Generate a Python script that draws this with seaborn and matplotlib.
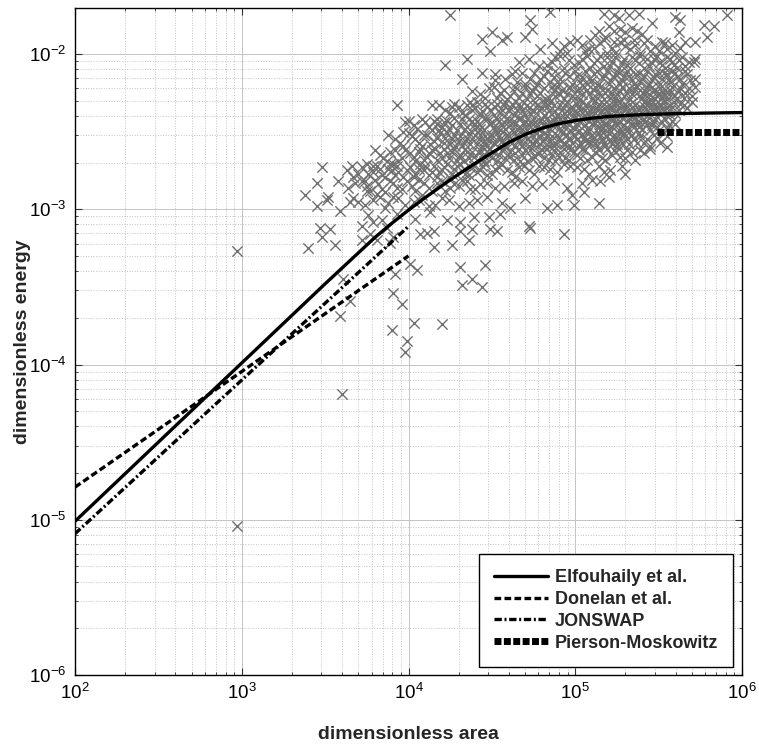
import matplotlib
matplotlib.use("Agg")
import matplotlib.pyplot as plt
import matplotlib.ticker as mticker
import numpy as np
import seaborn as sns

sparse_points = [
    (2.97, -3.27), (2.97, -5.04), (3.60, -4.19),
    (4.25, -1.75), (4.73, -1.78), (4.74, -1.84), (4.70, -1.89), (4.59, -1.89),
    (4.56, -1.91), (4.50, -1.86), (4.44, -1.90), (4.49, -1.98), (4.35, -2.03),
    (4.22, -2.07), (4.44, -2.12), (4.32, -2.16), (4.52, -2.17), (4.52, -2.13),
    (4.85, -1.73), (5.46, -1.80), (5.62, -1.86), (5.63, -1.78), (5.77, -1.81),
    (5.83, -1.82), (5.91, -1.75), (5.79, -1.89), (5.72, -1.92), (5.72, -2.03),
    (5.72, -2.16), (5.60, -1.76), (5.17, -1.74), (5.23, -1.75), (5.26, -1.77),
    (5.32, -1.75), (5.38, -1.74), (5.34, -1.83), (5.37, -1.85), (5.30, -1.86),
    (5.23, -1.85), (5.14, -1.85), (5.09, -1.91), (5.20, -1.82), (5.29, -1.91),
    (5.23, -1.92), (5.12, -1.88), (5.27, -1.84), (5.18, -1.89), (5.40, -1.87),
    (3.93, -2.33), (4.14, -2.33), (4.26, -2.34), (4.38, -2.33), (4.34, -2.39),
    (4.17, -2.45), (3.98, -2.44), (3.97, -2.50), (4.02, -2.53),
    (3.48, -2.73), (3.45, -2.83), (3.58, -2.82), (3.38, -2.91), (3.45, -2.98),
    (3.51, -2.94), (3.59, -3.01), (3.65, -2.95), (3.74, -2.82), (3.75, -2.88),
    (3.81, -2.90), (3.89, -2.71), (3.92, -2.78), (3.79, -2.72), (3.52, -2.92),
    (3.47, -3.12), (3.53, -3.13), (3.48, -3.18), (3.40, -3.25), (3.56, -3.23),
    (3.72, -3.11), (3.79, -3.08), (3.77, -3.16), (3.72, -3.20), (3.87, -3.12),
    (3.81, -3.20), (3.89, -3.22), (3.91, -3.18), (4.01, -3.35), (4.05, -3.39),
    (3.92, -3.42), (3.91, -3.54), (3.96, -3.61), (3.59, -3.69), (4.03, -3.73),
    (4.20, -3.74), (3.90, -3.78), (3.99, -3.85), (3.98, -3.92), (3.65, -3.59),
    (3.61, -3.45), (4.31, -3.37), (4.46, -3.36), (4.32, -3.49), (4.38, -3.45),
    (4.44, -3.50), (4.15, -3.24), (4.26, -3.23), (4.36, -3.20), (4.07, -3.16),
    (4.11, -3.15), (4.15, -3.14), (4.31, -3.14), (4.38, -3.13), (4.49, -3.13),
    (4.53, -3.14), (4.72, -3.11), (4.73, -3.12), (4.93, -3.16), (5.14, -2.96),
    (4.99, -2.97), (4.83, -2.99), (4.89, -2.97), (4.61, -2.99), (4.55, -3.03),
    (4.48, -3.05), (4.39, -3.05), (4.31, -3.08), (4.23, -3.07), (5.55, -2.60),
    (5.30, -2.77), (5.71, -2.05), (5.72, -2.21), (5.70, -2.31),
]

cloud_points = [
    # energy 10^-1.9 .. 10^-2.0
    (4.93, -1.95), (4.97, -1.92), (4.91, -1.98), (5.04, -1.94), (5.08, -1.97),
    (5.15, -1.93), (5.19, -1.99), (5.22, -1.96), (5.27, -1.92), (5.33, -1.97),
    (5.36, -1.94), (5.41, -1.93), (5.45, -1.98), (5.48, -1.95), (5.52, -1.92),
    (5.55, -1.97), (5.58, -1.94), (5.63, -1.96),
    (4.86, -1.93), (4.95, -1.99), (5.01, -1.91), (5.11, -1.96), (5.17, -1.91),
    (5.24, -1.99), (5.30, -1.95), (5.39, -1.99), (5.43, -1.91), (5.50, -1.98),
    (5.54, -1.93), (5.60, -1.99), (5.66, -1.92), (4.79, -1.97), (5.06, -1.98),
    (5.35, -1.91),
    # 10^-2.0 .. 10^-2.1
    (4.66, -2.05), (4.83, -2.07), (4.88, -2.02), (4.93, -2.09), (4.96, -2.04),
    (5.02, -2.06), (5.07, -2.01), (5.09, -2.09), (5.13, -2.04), (5.17, -2.08),
    (5.19, -2.02), (5.22, -2.05), (5.26, -2.09), (5.29, -2.03), (5.31, -2.07),
    (5.34, -2.02), (5.38, -2.06), (5.41, -2.09), (5.43, -2.03), (5.46, -2.06),
    (5.49, -2.01), (5.51, -2.05), (5.54, -2.09), (5.57, -2.03), (5.59, -2.07),
    (5.62, -2.04), (5.66, -2.08),
    (4.72, -2.03), (4.78, -2.08), (4.86, -2.05), (4.91, -2.01), (4.99, -2.07),
    (5.04, -2.03), (5.11, -2.06), (5.15, -2.01), (5.21, -2.08), (5.24, -2.02),
    (5.28, -2.06), (5.33, -2.09), (5.36, -2.04), (5.39, -2.01), (5.44, -2.08),
    (5.47, -2.03), (5.52, -2.07), (5.55, -2.02), (5.58, -2.05), (5.61, -2.09),
    (5.64, -2.02), (5.68, -2.05),
    # 10^-2.1 .. 10^-2.2
    (4.62, -2.13), (4.65, -2.18), (4.68, -2.12), (4.73, -2.16), (4.77, -2.19),
    (4.81, -2.14), (4.85, -2.18), (4.88, -2.11), (4.91, -2.16), (4.94, -2.12),
    (4.98, -2.19), (5.01, -2.14), (5.03, -2.18), (5.06, -2.11), (5.08, -2.16),
    (5.11, -2.13), (5.14, -2.19), (5.16, -2.15), (5.19, -2.11), (5.21, -2.17),
    (5.24, -2.13), (5.27, -2.19), (5.29, -2.14), (5.31, -2.11), (5.34, -2.17),
    (5.36, -2.13), (5.39, -2.18), (5.41, -2.14), (5.43, -2.11), (5.46, -2.17),
    (5.48, -2.13), (5.51, -2.19), (5.53, -2.12), (5.56, -2.16), (5.58, -2.11),
    (5.61, -2.15), (5.64, -2.19), (5.67, -2.13),
    (4.58, -2.16), (4.64, -2.11), (4.70, -2.19), (4.75, -2.12), (4.79, -2.16),
    (4.83, -2.11), (4.87, -2.15), (4.90, -2.19), (4.96, -2.14), (5.00, -2.11),
    (5.04, -2.15), (5.07, -2.19), (5.10, -2.17), (5.13, -2.11), (5.18, -2.14),
    (5.20, -2.19), (5.23, -2.15), (5.26, -2.12), (5.28, -2.17), (5.32, -2.14),
    (5.35, -2.19), (5.38, -2.12), (5.40, -2.16), (5.44, -2.19), (5.47, -2.15),
    (5.50, -2.12), (5.52, -2.16), (5.55, -2.13), (5.57, -2.18), (5.60, -2.12),
    (5.63, -2.16), (5.66, -2.11), (5.69, -2.17),
    # 10^-2.2 .. 10^-2.3
    (4.43, -2.26), (4.48, -2.22), (4.53, -2.28), (4.57, -2.23), (4.61, -2.27),
    (4.64, -2.21), (4.68, -2.25), (4.71, -2.29), (4.74, -2.23), (4.77, -2.27),
    (4.81, -2.22), (4.84, -2.28), (4.87, -2.24), (4.89, -2.21), (4.91, -2.26),
    (4.93, -2.29), (4.96, -2.22), (4.98, -2.27), (5.01, -2.24), (5.03, -2.29),
    (5.05, -2.21), (5.08, -2.26), (5.11, -2.23), (5.13, -2.28), (5.15, -2.21),
    (5.18, -2.25), (5.21, -2.28), (5.23, -2.22), (5.25, -2.26), (5.28, -2.21),
    (5.31, -2.25), (5.33, -2.29), (5.35, -2.22), (5.38, -2.27), (5.39, -2.23),
    (5.41, -2.26), (5.43, -2.21), (5.45, -2.29), (5.47, -2.24), (5.49, -2.27),
    (5.51, -2.22), (5.53, -2.26), (5.55, -2.29), (5.57, -2.23), (5.59, -2.27),
    (5.62, -2.24), (5.65, -2.28), (5.68, -2.22),
    (4.38, -2.24), (4.46, -2.28), (4.51, -2.21), (4.55, -2.25), (4.59, -2.29),
    (4.63, -2.24), (4.66, -2.28), (4.70, -2.21), (4.73, -2.26), (4.76, -2.22),
    (4.79, -2.25), (4.82, -2.29), (4.86, -2.21), (4.88, -2.27), (4.92, -2.23),
    (4.95, -2.26), (4.97, -2.21), (5.00, -2.28), (5.02, -2.22), (5.04, -2.26),
    (5.07, -2.23), (5.10, -2.28), (5.12, -2.21), (5.14, -2.25), (5.17, -2.29),
    (5.19, -2.23), (5.22, -2.25), (5.24, -2.29), (5.27, -2.24), (5.29, -2.27),
    (5.32, -2.22), (5.34, -2.26), (5.37, -2.21), (5.40, -2.28), (5.42, -2.24),
    (5.44, -2.26), (5.46, -2.21), (5.48, -2.29), (5.50, -2.25), (5.52, -2.28),
    (5.54, -2.23), (5.56, -2.26), (5.58, -2.21), (5.61, -2.28), (5.63, -2.22),
    (5.66, -2.25), (5.70, -2.27),
    # 10^-2.3 .. 10^-2.4
    (4.22, -2.36), (4.27, -2.32), (4.32, -2.38), (4.35, -2.33), (4.38, -2.36),
    (4.41, -2.31), (4.44, -2.37), (4.47, -2.34), (4.51, -2.39), (4.53, -2.32),
    (4.56, -2.36), (4.58, -2.31), (4.61, -2.35), (4.63, -2.39), (4.66, -2.32),
    (4.68, -2.37), (4.71, -2.33), (4.73, -2.38), (4.76, -2.31), (4.78, -2.36),
    (4.81, -2.39), (4.83, -2.34), (4.85, -2.31), (4.88, -2.37), (4.91, -2.33),
    (4.93, -2.38), (4.95, -2.31), (4.97, -2.35), (4.99, -2.39), (5.01, -2.32),
    (5.03, -2.36), (5.05, -2.39), (5.07, -2.33), (5.09, -2.37), (5.11, -2.31),
    (5.13, -2.35), (5.15, -2.38), (5.17, -2.32), (5.19, -2.36), (5.21, -2.39),
    (5.23, -2.33), (5.25, -2.37), (5.27, -2.31), (5.29, -2.35), (5.31, -2.38),
    (5.33, -2.32), (5.35, -2.36), (5.37, -2.39), (5.39, -2.34), (5.41, -2.31),
    (5.43, -2.37), (5.45, -2.33), (5.47, -2.38), (5.49, -2.35), (5.51, -2.32),
    (5.53, -2.37), (5.55, -2.34), (5.57, -2.39), (5.59, -2.31), (5.62, -2.36),
    (5.65, -2.33),
    (4.18, -2.33), (4.25, -2.38), (4.30, -2.34), (4.34, -2.39), (4.37, -2.31),
    (4.40, -2.35), (4.43, -2.39), (4.46, -2.32), (4.49, -2.36), (4.52, -2.34),
    (4.55, -2.38), (4.57, -2.33), (4.60, -2.37), (4.62, -2.32), (4.65, -2.36),
    (4.67, -2.34), (4.70, -2.39), (4.72, -2.35), (4.75, -2.37), (4.77, -2.33),
    (4.80, -2.35), (4.82, -2.31), (4.84, -2.37), (4.87, -2.33), (4.89, -2.39),
    (4.92, -2.36), (4.94, -2.33), (4.96, -2.38), (4.98, -2.34), (5.00, -2.37),
    (5.02, -2.34), (5.04, -2.31), (5.06, -2.36), (5.08, -2.39), (5.10, -2.34),
    (5.12, -2.38), (5.14, -2.32), (5.16, -2.36), (5.18, -2.39), (5.20, -2.33),
    (5.22, -2.36), (5.24, -2.31), (5.26, -2.34), (5.28, -2.38), (5.30, -2.32),
    (5.32, -2.36), (5.34, -2.39), (5.36, -2.33), (5.38, -2.36), (5.40, -2.38),
    (5.42, -2.34), (5.44, -2.31), (5.46, -2.36), (5.48, -2.32), (5.50, -2.38),
    (5.52, -2.35), (5.54, -2.31), (5.56, -2.37), (5.58, -2.34), (5.60, -2.38),
    (5.63, -2.32), (5.67, -2.35),
    # 10^-2.4 .. 10^-2.5
    (4.03, -2.46), (4.08, -2.42), (4.12, -2.47), (4.15, -2.43), (4.18, -2.49),
    (4.21, -2.44), (4.24, -2.48), (4.27, -2.41), (4.31, -2.45), (4.33, -2.49),
    (4.36, -2.42), (4.39, -2.46), (4.41, -2.43), (4.43, -2.48), (4.46, -2.41),
    (4.48, -2.45), (4.51, -2.47), (4.53, -2.42), (4.55, -2.49), (4.57, -2.44),
    (4.59, -2.41), (4.61, -2.46), (4.63, -2.43), (4.65, -2.48), (4.67, -2.41),
    (4.69, -2.45), (4.71, -2.49), (4.73, -2.44), (4.75, -2.41), (4.77, -2.47),
    (4.79, -2.43), (4.81, -2.45), (4.83, -2.41), (4.85, -2.48), (4.87, -2.43),
    (4.89, -2.46), (4.91, -2.42), (4.93, -2.47), (4.95, -2.44), (4.97, -2.49),
    (4.99, -2.41), (5.01, -2.45), (5.02, -2.49), (5.04, -2.42), (5.06, -2.46),
    (5.08, -2.43), (5.09, -2.48), (5.11, -2.44), (5.12, -2.41), (5.14, -2.47),
    (5.16, -2.43), (5.18, -2.49), (5.19, -2.45), (5.21, -2.42), (5.22, -2.47),
    (5.24, -2.44), (5.26, -2.49), (5.28, -2.41), (5.29, -2.46), (5.31, -2.43),
    (5.32, -2.48), (5.34, -2.45), (5.36, -2.41), (5.38, -2.47), (5.39, -2.44),
    (5.41, -2.42), (5.43, -2.46), (5.45, -2.49), (5.47, -2.43), (5.49, -2.47),
    (5.52, -2.44), (5.55, -2.48), (5.58, -2.43),
    (4.00, -2.43), (4.05, -2.48), (4.10, -2.44), (4.14, -2.49), (4.17, -2.42),
    (4.20, -2.47), (4.23, -2.43), (4.26, -2.46), (4.29, -2.49), (4.32, -2.42),
    (4.35, -2.47), (4.38, -2.43), (4.40, -2.48), (4.42, -2.45), (4.45, -2.49),
    (4.47, -2.42), (4.50, -2.44), (4.52, -2.48), (4.54, -2.43), (4.56, -2.46),
    (4.58, -2.48), (4.60, -2.43), (4.62, -2.49), (4.64, -2.45), (4.66, -2.42),
    (4.68, -2.48), (4.70, -2.43), (4.72, -2.46), (4.74, -2.48), (4.76, -2.44),
    (4.78, -2.49), (4.80, -2.42), (4.82, -2.47), (4.84, -2.44), (4.86, -2.46),
    (4.88, -2.41), (4.90, -2.48), (4.92, -2.44), (4.94, -2.41), (4.96, -2.46),
    (4.98, -2.43), (5.00, -2.48), (5.03, -2.44), (5.05, -2.41), (5.07, -2.48),
    (5.10, -2.45), (5.13, -2.43), (5.15, -2.49), (5.17, -2.45), (5.20, -2.48),
    (5.23, -2.42), (5.25, -2.46), (5.27, -2.44), (5.30, -2.48), (5.33, -2.42),
    (5.35, -2.47), (5.37, -2.44), (5.40, -2.48), (5.42, -2.44), (5.44, -2.41),
    (5.46, -2.46), (5.48, -2.42), (5.50, -2.49), (5.53, -2.41), (5.56, -2.46),
    (5.60, -2.45),
    # 10^-2.5 .. 10^-2.6
    (3.92, -2.55), (3.97, -2.59), (4.02, -2.53), (4.06, -2.57), (4.11, -2.52),
    (4.13, -2.58), (4.17, -2.54), (4.21, -2.57), (4.23, -2.51), (4.26, -2.55),
    (4.28, -2.59), (4.31, -2.53), (4.33, -2.57), (4.36, -2.51), (4.38, -2.55),
    (4.41, -2.58), (4.43, -2.52), (4.45, -2.56), (4.47, -2.59), (4.49, -2.53),
    (4.51, -2.57), (4.53, -2.51), (4.55, -2.55), (4.57, -2.58), (4.59, -2.52),
    (4.61, -2.56), (4.63, -2.59), (4.65, -2.53), (4.67, -2.57), (4.69, -2.51),
    (4.71, -2.55), (4.72, -2.59), (4.74, -2.52), (4.76, -2.56), (4.78, -2.53),
    (4.79, -2.58), (4.81, -2.51), (4.82, -2.55), (4.84, -2.59), (4.86, -2.53),
    (4.88, -2.57), (4.89, -2.52), (4.91, -2.56), (4.92, -2.51), (4.94, -2.58),
    (4.96, -2.54), (4.98, -2.57), (4.99, -2.52), (5.01, -2.55), (5.02, -2.59),
    (5.04, -2.52), (5.06, -2.56), (5.07, -2.51), (5.09, -2.58), (5.11, -2.54),
    (5.12, -2.57), (5.14, -2.51), (5.16, -2.55), (5.18, -2.59), (5.19, -2.53),
    (5.21, -2.56), (5.23, -2.52), (5.25, -2.58), (5.27, -2.54), (5.29, -2.51),
    (5.31, -2.55), (5.34, -2.52), (5.37, -2.57), (5.39, -2.53), (5.43, -2.55),
    (5.47, -2.52), (5.51, -2.57), (5.55, -2.53),
    (3.88, -2.52), (3.95, -2.57), (4.00, -2.51), (4.04, -2.55), (4.08, -2.59),
    (4.09, -2.52), (4.15, -2.56), (4.19, -2.51), (4.22, -2.54), (4.25, -2.58),
    (4.27, -2.52), (4.30, -2.56), (4.32, -2.59), (4.35, -2.54), (4.37, -2.58),
    (4.40, -2.52), (4.42, -2.55), (4.44, -2.59), (4.46, -2.53), (4.48, -2.56),
    (4.50, -2.52), (4.52, -2.58), (4.54, -2.53), (4.56, -2.56), (4.58, -2.59),
    (4.60, -2.53), (4.62, -2.57), (4.64, -2.51), (4.66, -2.55), (4.68, -2.59),
    (4.70, -2.53), (4.73, -2.56), (4.75, -2.58), (4.77, -2.51), (4.80, -2.56),
    (4.83, -2.52), (4.85, -2.56), (4.87, -2.59), (4.90, -2.54), (4.93, -2.57),
    (4.95, -2.52), (4.97, -2.59), (5.00, -2.53), (5.03, -2.57), (5.05, -2.54),
    (5.08, -2.56), (5.10, -2.52), (5.13, -2.59), (5.15, -2.53), (5.17, -2.57),
    (5.20, -2.51), (5.22, -2.58), (5.24, -2.55), (5.26, -2.51), (5.28, -2.57),
    (5.30, -2.53), (5.32, -2.58), (5.35, -2.55), (5.38, -2.51), (5.41, -2.57),
    (5.45, -2.59), (5.49, -2.54), (5.53, -2.51),
    # 10^-2.6 .. 10^-2.7
    (3.83, -2.65), (3.87, -2.69), (3.92, -2.62), (3.96, -2.67), (4.01, -2.64),
    (4.04, -2.69), (4.07, -2.61), (4.11, -2.66), (4.14, -2.62), (4.17, -2.68),
    (4.19, -2.64), (4.21, -2.61), (4.24, -2.67), (4.26, -2.63), (4.29, -2.69),
    (4.31, -2.65), (4.34, -2.61), (4.36, -2.67), (4.38, -2.63), (4.41, -2.68),
    (4.43, -2.62), (4.46, -2.66), (4.48, -2.61), (4.51, -2.64), (4.53, -2.69),
    (4.56, -2.62), (4.58, -2.67), (4.61, -2.63), (4.63, -2.68), (4.66, -2.61),
    (4.68, -2.65), (4.71, -2.69), (4.73, -2.62), (4.76, -2.66), (4.78, -2.63),
    (4.81, -2.67), (4.83, -2.61), (4.86, -2.65), (4.88, -2.69), (4.91, -2.63),
    (4.94, -2.67), (4.97, -2.62), (5.01, -2.65), (5.04, -2.61), (5.07, -2.68),
    (5.12, -2.63), (5.16, -2.67), (5.19, -2.61), (5.23, -2.62), (5.27, -2.66),
    (5.31, -2.62), (5.36, -2.68), (5.41, -2.64), (5.45, -2.61),
    (3.80, -2.62), (3.85, -2.67), (3.89, -2.63), (3.94, -2.69), (3.98, -2.62),
    (4.03, -2.66), (4.06, -2.63), (4.09, -2.68), (4.12, -2.64), (4.16, -2.61),
    (4.20, -2.67), (4.23, -2.64), (4.27, -2.61), (4.30, -2.66), (4.33, -2.69),
    (4.35, -2.63), (4.39, -2.66), (4.42, -2.64), (4.45, -2.69), (4.47, -2.63),
    (4.50, -2.67), (4.54, -2.65), (4.57, -2.61), (4.60, -2.66), (4.64, -2.64),
    (4.67, -2.69), (4.70, -2.62), (4.74, -2.67), (4.77, -2.64), (4.80, -2.62),
    (4.84, -2.68), (4.87, -2.62), (4.90, -2.66), (4.93, -2.61), (4.96, -2.68),
    (4.99, -2.63), (5.03, -2.67), (5.06, -2.62), (5.10, -2.66), (5.14, -2.62),
    (5.18, -2.68), (5.22, -2.65), (5.26, -2.61), (5.30, -2.67), (5.34, -2.63),
    (5.39, -2.62),
    # 10^-2.7 .. 10^-2.8
    (3.63, -2.75), (3.67, -2.79), (3.72, -2.73), (3.76, -2.77), (3.81, -2.72),
    (3.84, -2.78), (3.88, -2.74), (3.91, -2.71), (3.94, -2.76), (3.97, -2.79),
    (4.01, -2.73), (4.04, -2.77), (4.07, -2.71), (4.09, -2.75), (4.12, -2.78),
    (4.15, -2.72), (4.18, -2.76), (4.21, -2.73), (4.24, -2.79), (4.27, -2.74),
    (4.31, -2.71), (4.34, -2.77), (4.37, -2.73), (4.41, -2.76), (4.44, -2.72),
    (4.47, -2.78), (4.52, -2.74), (4.56, -2.71), (4.62, -2.76), (4.66, -2.73),
    (4.72, -2.75), (4.78, -2.72), (4.85, -2.74), (4.93, -2.71), (5.01, -2.73),
    (5.08, -2.77), (5.14, -2.72), (5.21, -2.75), (5.28, -2.72),
    (3.66, -2.72), (3.70, -2.77), (3.75, -2.71), (3.79, -2.76), (3.83, -2.74),
    (3.86, -2.79), (3.90, -2.75), (3.93, -2.72), (3.99, -2.75), (4.03, -2.79),
    (4.06, -2.74), (4.10, -2.72), (4.14, -2.76), (4.17, -2.79), (4.20, -2.75),
    (4.23, -2.71), (4.26, -2.77), (4.29, -2.72), (4.33, -2.74), (4.36, -2.78),
    (4.39, -2.72), (4.43, -2.75), (4.46, -2.71), (4.50, -2.77), (4.54, -2.73),
    (4.59, -2.75), (4.64, -2.79), (4.69, -2.72), (4.75, -2.77), (4.81, -2.73),
    (4.89, -2.76), (4.97, -2.72), (5.05, -2.74), (5.17, -2.76), (5.20, -2.79),
    # 10^-2.8 .. 10^-2.9
    (3.64, -2.86), (3.72, -2.82), (3.77, -2.88), (3.82, -2.84), (3.86, -2.89),
    (3.91, -2.83), (3.96, -2.87), (4.02, -2.85), (4.06, -2.81), (4.12, -2.86),
    (4.17, -2.83), (4.22, -2.88), (4.27, -2.84), (4.32, -2.81), (4.37, -2.87),
    (4.43, -2.84), (4.52, -2.86), (4.63, -2.83), (4.74, -2.85),
    (3.68, -2.83), (3.75, -2.85), (3.80, -2.81), (3.84, -2.87), (3.89, -2.82),
    (3.93, -2.86), (3.99, -2.82), (4.04, -2.88), (4.09, -2.83), (4.14, -2.88),
    (4.20, -2.82), (4.25, -2.86), (4.30, -2.85), (4.35, -2.82), (4.40, -2.87),
    (4.47, -2.83), (4.57, -2.85), (4.68, -2.82), (4.80, -2.84), (4.87, -2.81),
    (4.95, -2.86), (5.04, -2.83), (5.10, -2.81), (5.15, -2.82),
    # 10^-2.9 .. 10^-3.1
    (3.67, -2.93), (3.74, -2.97), (3.83, -2.92), (3.88, -2.96), (3.94, -2.93),
    (4.03, -2.95), (4.08, -2.91), (4.16, -2.97), (4.24, -2.94), (4.36, -2.96),
    (4.47, -2.92), (3.76, -3.04), (3.84, -3.07), (3.93, -3.03), (4.04, -3.06),
    (4.13, -3.02),
    (3.70, -2.95), (3.79, -2.94), (3.86, -2.99), (3.91, -2.92), (3.98, -2.97),
    (4.06, -2.94), (4.12, -2.98), (4.20, -2.93), (4.30, -2.98), (4.41, -2.94),
    (4.56, -2.96), (4.70, -2.93), (4.98, -2.91), (5.05, -2.89),
]

# model curves (log10 area, log10 energy)
elf_area = [2.0, 2.5, 3.0, 3.5, 3.8, 3.9, 4.0, 4.1, 4.2, 4.3, 4.4, 4.5, 4.6,
            4.7, 4.8, 4.9, 5.0, 5.1, 5.2, 5.4, 5.6, 5.8, 6.0]
elf_energy = [-5.01, -4.50, -3.99, -3.48, -3.18, -3.09, -3.005, -2.925, -2.848,
              -2.774, -2.704, -2.636, -2.570, -2.518, -2.478, -2.449, -2.428,
              -2.413, -2.402, -2.390, -2.384, -2.380, -2.377]
donelan_area = [2.0, 4.0]
donelan_energy = [-4.79, -3.30]
jonswap_area = [2.0, 4.0]
jonswap_energy = [-5.09, -3.11]
pm_area = [5.49, 6.0]
pm_energy = [-2.505, -2.505]

labels = ["Elfouhaily et al.", "Donelan et al.", "JONSWAP", "Pierson-Moskowitz"]

sns.set_style("ticks")
plt.rcParams["font.family"] = ["Liberation Sans", "DejaVu Sans"]
plt.rcParams["mathtext.fontset"] = "custom"
plt.rcParams["mathtext.rm"] = "Liberation Sans"
plt.rcParams["mathtext.default"] = "regular"
plt.rcParams["axes.unicode_minus"] = False

fig = plt.figure(figsize=(7.59, 7.44), dpi=100)
ax = fig.add_axes([75 / 759, 69 / 744, 667 / 759, 667 / 744])

pts = np.array(sparse_points + cloud_points)
sns.scatterplot(x=10 ** pts[:, 0], y=10 ** pts[:, 1], marker="x", color="#707070",
                s=55, linewidth=1.0, ax=ax, zorder=3, legend=False)

lw = 2.4
ax.plot(10 ** np.array(elf_area), 10 ** np.array(elf_energy), color="black",
        lw=lw, label=labels[0], zorder=5)
ax.plot(10 ** np.array(donelan_area), 10 ** np.array(donelan_energy), color="black",
        lw=lw, dashes=(2.0, 1.0), label=labels[1], zorder=5)
ax.plot(10 ** np.array(jonswap_area), 10 ** np.array(jonswap_energy), color="black",
        lw=lw, dashes=(2.2, 0.8, 0.6, 0.8), label=labels[2], zorder=5)
ax.plot(10 ** np.array(pm_area), 10 ** np.array(pm_energy), color="black",
        lw=5, dashes=(1.0, 0.35), label=labels[3], zorder=5)

ax.set_xscale("log")
ax.set_yscale("log")
ax.set_xlim(1e2, 1e6)
ax.set_ylim(1e-6, 1.98e-2)
ax.xaxis.set_major_locator(mticker.LogLocator(base=10, numticks=10))
ax.yaxis.set_major_locator(mticker.LogLocator(base=10, numticks=10))
ax.xaxis.set_minor_locator(mticker.LogLocator(base=10, subs=np.arange(2, 10), numticks=20))
ax.yaxis.set_minor_locator(mticker.LogLocator(base=10, subs=np.arange(2, 10), numticks=20))
ax.xaxis.set_minor_formatter(mticker.NullFormatter())
ax.yaxis.set_minor_formatter(mticker.NullFormatter())

ax.grid(True, which="major", color="#c4c4c4", lw=0.7, ls="-", zorder=0)
ax.grid(True, which="minor", color="#c4c4c4", lw=0.7, ls=":", zorder=0)
ax.set_axisbelow(True)

ax.tick_params(which="both", direction="in", top=True, right=True, colors="#333333",
               labelcolor="black")
ax.tick_params(which="major", length=5, width=0.8, labelsize=13.5, pad=6)
ax.tick_params(which="minor", length=2.5, width=0.6)
for sp in ax.spines.values():
    sp.set_color("black")
    sp.set_linewidth(1.0)

ax.set_xlabel("dimensionless area", fontsize=14, fontweight="bold")
ax.set_ylabel("dimensionless energy", fontsize=14, fontweight="bold")
ax.xaxis.set_label_coords(0.5, -0.077)
ax.yaxis.set_label_coords(-0.066, 0.5)

leg = ax.legend(loc="lower right", bbox_to_anchor=(0.987, 0.012), borderaxespad=0,
                fancybox=False, framealpha=1, edgecolor="black", handlelength=3.0,
                handletextpad=0.35, borderpad=0.85, labelspacing=0.27,
                prop={"size": 13, "weight": "bold"})
leg.get_frame().set_linewidth(1.0)

fig.savefig("out.png", dpi=100)
